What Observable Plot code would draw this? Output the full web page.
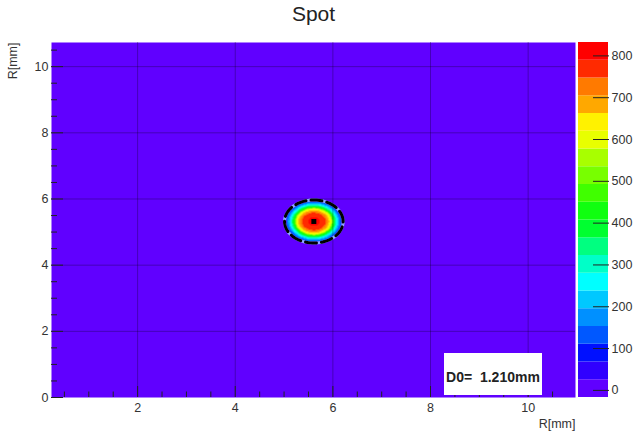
<!DOCTYPE html>
<html>
<head>
<meta charset="utf-8">
<script src="https://cdn.jsdelivr.net/npm/d3@7"></script>
<script src="https://cdn.jsdelivr.net/npm/@observablehq/plot@0.6"></script>
<style>
  body { margin: 0; background: #fff; font-family: "Liberation Sans", Arial, Helvetica, sans-serif; }
  #wrap { position: relative; width: 636px; height: 435px; overflow: hidden; background: #fff; }
  #wrap svg { position: absolute; left: 0; top: 0; }
  #d0box { position: absolute; left: 444px; top: 353px; width: 98px; height: 42px; background: #fff;
           font-weight: bold; font-size: 14px; color: #222; text-align: center; line-height: 48px; white-space: pre; }
</style>
</head>
<body>
<div id="wrap"></div>
<script>
// ---- texts ----
const title = "Spot";
const xLabel = "R[mm]";
const yLabel = "R[mm]";
const D0 = 1.210;
const d0Text = "D0=  " + D0.toFixed(3) + "mm";

// ---- axes ----
const xDomain = [0.236, 10.97];
const yDomain = [0, 10.73];
const xTicks = [2, 4, 6, 8, 10];
const yTicks = [0, 2, 4, 6, 8, 10];
const xMinor = d3.range(0.5, 11, 0.5).filter(v => !xTicks.includes(v));
const yMinor = d3.range(0.5, 10.75, 0.5).filter(v => !yTicks.includes(v));

// ---- colour axis (20 contour bands) ----
const zRange = [-17, 832];
const zTicks = [0, 100, 200, 300, 400, 500, 600, 700, 800];
const bandColors = ["#6000ff","#3000ff","#0010ff","#0058ff","#0090ff","#00c8ff","#00ffff","#00ffc8","#00ff80","#00ff30",
                    "#10ff10","#40ff00","#78ff00","#a8ff00","#e8ff00","#fff200","#ffa800","#ff7a00","#ff2a00","#ff0000"];

// ---- spot: centre, radii, ring counts ----
const spotX = 5.61, spotY = 5.32;
const spotRx = 0.60, spotRy = 0.65;
const spotRadius = [0.20, 0.40, 0.46, 0.52, 0.56, 0.60, 0.63, 0.66, 0.69, 0.72, 0.75, 0.78, 0.81, 0.85, 0.89, 0.95];
const spotCounts = [811,  768,  726,  683,  641,  598,  556,  471,  428,  386,  344,  301,  259,  216,  174,  131];
const backgroundCount = 4;

const bandW = (zRange[1] - zRange[0]) / bandColors.length;
const thresholds = d3.range(1, bandColors.length).map(k => zRange[0] + k * bandW);
const colorOpt = { type: "threshold", domain: thresholds, range: bandColors };
const bands = bandColors.map((c, k) => ({ lo: zRange[0] + k * bandW, hi: zRange[0] + (k + 1) * bandW, mid: zRange[0] + (k + 0.5) * bandW }));

function spotField(x, y) {
  const rho = Math.hypot((x - spotX) / spotRx, (y - spotY) / spotRy);
  for (let i = 0; i < spotRadius.length; i++) if (rho < spotRadius[i]) return spotCounts[i];
  return backgroundCount;
}
const ring = d3.range(0, 361, 3).map(a => ({
  x: spotX + spotRx * Math.cos(a * Math.PI / 180),
  y: spotY + spotRy * Math.sin(a * Math.PI / 180)
}));

const font = "'Liberation Sans', Arial, Helvetica, sans-serif";
const blank = () => "";

const main = Plot.plot({
  width: 636, height: 435,
  marginLeft: 51, marginRight: 61, marginTop: 42, marginBottom: 38,
  x: { domain: xDomain, axis: null },
  y: { domain: yDomain, axis: null },
  color: colorOpt,
  style: { fontFamily: font, fontSize: "12.5px", color: "#333", background: "transparent", overflow: "visible" },
  marks: [
    Plot.raster({ fill: spotField, x1: xDomain[0], x2: xDomain[1], y1: yDomain[0], y2: yDomain[1], pixelSize: 1 }),
    Plot.gridX(xTicks, { stroke: "#000", strokeOpacity: 0.28, strokeWidth: 1 }),
    Plot.gridY(yTicks.filter(v => v > 0), { stroke: "#000", strokeOpacity: 0.28, strokeWidth: 1 }),
    Plot.line(ring, { x: "x", y: "y", stroke: "#8fa8ff", strokeWidth: 3 }),
    Plot.line(ring, { x: "x", y: "y", stroke: "#000", strokeWidth: 3, strokeDasharray: "11,5" }),
    Plot.dot([{ x: spotX, y: spotY }], { x: "x", y: "y", symbol: "square", r: 2.8, fill: "#000" }),
    Plot.axisX(xTicks, { tickSize: 11, dy: -11, tickFormat: blank, stroke: "#222", label: null }),
    Plot.axisX(xMinor, { tickSize: 5.5, dy: -5.5, tickFormat: blank, stroke: "#222", label: null }),
    Plot.axisX(xTicks, { tickSize: 0, tickPadding: 6, label: null, fill: "#333" }),
    Plot.axisY(yTicks, { tickSize: 12, dx: 12, tickFormat: blank, stroke: "#222", label: null }),
    Plot.axisY(yMinor, { tickSize: 6, dx: 6, tickFormat: blank, stroke: "#222", label: null }),
    Plot.axisY(yTicks, { tickSize: 0, tickPadding: 3, label: null, fill: "#333" }),
    Plot.text([title], { text: d => d, frameAnchor: "top", dy: -22, lineAnchor: "bottom", fontSize: 21, fill: "#222" }),
    Plot.text([xLabel], { text: d => d, frameAnchor: "bottom-right", dy: 30, textAnchor: "end", lineAnchor: "bottom", fill: "#333" }),
    Plot.text([yLabel], { text: d => d, frameAnchor: "top-left", dx: -39, rotate: -90, textAnchor: "end", lineAnchor: "middle", fill: "#333" })
  ]
});

const bar = Plot.plot({
  width: 636, height: 435,
  marginLeft: 578, marginRight: 28, marginTop: 42, marginBottom: 38,
  y: { domain: zRange, axis: null },
  color: colorOpt,
  style: { fontFamily: font, fontSize: "12.5px", color: "#333", background: "transparent", overflow: "visible" },
  marks: [
    Plot.rect(bands, { y1: "lo", y2: "hi", fill: "mid" }),
    Plot.axisY(zTicks, { anchor: "right", tickSize: 16, dx: -16, tickPadding: 3, stroke: "#222", fill: "#333", label: null })
  ]
});

const wrap = document.getElementById("wrap");
wrap.appendChild(main);
wrap.appendChild(bar);
const box = document.createElement("div");
box.id = "d0box";
box.textContent = d0Text;
wrap.appendChild(box);
</script>
</body>
</html>
